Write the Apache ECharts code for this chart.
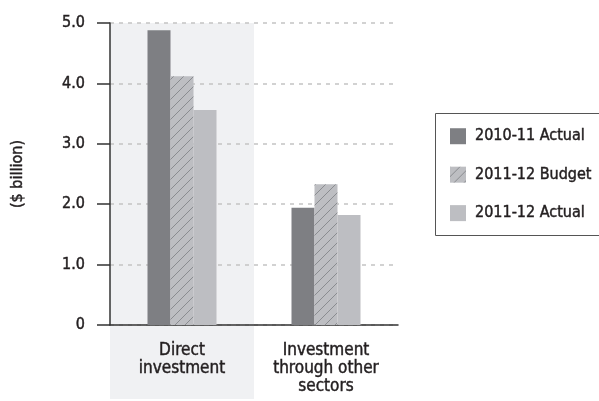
<!DOCTYPE html>
<html>
<head>
<meta charset="utf-8">
<script src="https://cdn.jsdelivr.net/npm/echarts@6/dist/echarts.min.js"></script>
<style>
  html, body { margin: 0; padding: 0; background: #fff; }
  #chart { width: 599px; height: 401px; }
</style>
</head>
<body>
<div id="chart"></div>
<script>
// Investment totals, $ billion
const categories = ['Direct\ninvestment', 'Investment\nthrough other\nsectors'];
const seriesNames = ['2010-11 Actual', '2011-12 Budget', '2011-12 Actual'];
const actual2010 = [4.88, 1.94];
const budget2011 = [4.12, 2.33];
const actual2011 = [3.56, 1.82];
const yTicks = [0, 1, 2, 3, 4, 5];

const FONT = "'Liberation Sans Narrow', 'DejaVu Sans Condensed', 'Roboto', sans-serif";
const TEXT = '#231f20';
const DARK = '#7e7f83';
const LIGHT = '#bdbec2';
// slightly heavier than regular weight
const INK = { color: TEXT, textBorderColor: TEXT, textBorderWidth: 0.45 };

// Diagonal hatch for the budget bars
function hatchPattern() {
  const c = document.createElement('canvas');
  c.width = 10; c.height = 10;
  const g = c.getContext('2d');
  g.fillStyle = LIGHT;
  g.fillRect(0, 0, 10, 10);
  g.strokeStyle = '#85868a';
  g.lineWidth = 0.9;
  g.beginPath();
  g.moveTo(-1, 11); g.lineTo(11, -1);
  g.stroke();
  return { image: c, repeat: 'repeat' };
}

const chart = echarts.init(document.getElementById('chart'), null, { renderer: 'canvas' });

const option = {
  animation: false,
  textStyle: { fontFamily: FONT, color: TEXT },
  grid: { left: 110, right: 201, top: 23, bottom: 76, containLabel: false },
  legend: {
    orient: 'vertical',
    left: 450,
    top: 128,
    padding: 0,
    itemWidth: 16,
    itemHeight: 16,
    itemGap: 22,
    icon: 'rect',
    selectedMode: false,
    textStyle: Object.assign({ fontFamily: FONT, fontSize: 16, padding: [0, 0, 0, 4] }, INK),
    data: seriesNames
  },
  xAxis: {
    type: 'category',
    data: categories,
    axisLine: { lineStyle: { color: '#333', width: 1.5 } },
    axisTick: { show: false },
    axisLabel: Object.assign({
      interval: 0, fontFamily: FONT, fontSize: 17, lineHeight: 18, margin: 17
    }, INK)
  },
  yAxis: {
    type: 'value',
    min: 0, max: 5, interval: 1,
    name: '($ billion)',
    nameLocation: 'middle',
    nameRotate: 90,
    nameGap: 84,
    nameTextStyle: Object.assign({ fontFamily: FONT, fontSize: 16 }, INK),
    axisLine: { show: true, lineStyle: { color: '#333', width: 1.5 } },
    axisTick: { show: true, length: 13, lineStyle: { color: '#333', width: 1.5 } },
    axisLabel: Object.assign({
      fontFamily: FONT, fontSize: 16, margin: 25,
      formatter: v => (v === 0 ? '0' : v.toFixed(1))
    }, INK),
    splitLine: { show: true, lineStyle: { color: '#c4c4c4', type: [4, 5], width: 1.5 } }
  },
  series: [
    {
      name: seriesNames[0], type: 'bar', data: actual2010,
      barWidth: 23, barGap: '0%',
      itemStyle: { color: DARK }, z: 3
    },
    {
      name: seriesNames[1], type: 'bar', data: budget2011,
      barWidth: 23,
      itemStyle: { color: hatchPattern() }, z: 3
    },
    {
      name: seriesNames[2], type: 'bar', data: actual2011,
      barWidth: 23,
      itemStyle: { color: LIGHT }, z: 3
    }
  ]
};

chart.setOption(option);

// Shaded band behind the first category (extends down through its label)
// and the frame around the legend.
const x0 = chart.convertToPixel({ xAxisIndex: 0 }, 0);
const x1 = chart.convertToPixel({ xAxisIndex: 0 }, 1);
const half = (x1 - x0) / 2;
const yTop = chart.convertToPixel({ yAxisIndex: 0 }, yTicks[yTicks.length - 1]);

chart.setOption({
  graphic: [
    {
      type: 'rect', z: -10, silent: true,
      shape: { x: x0 - half, y: yTop, width: half * 2, height: 399 - yTop },
      style: { fill: '#f0f1f3' }
    },
    {
      type: 'rect', z: 10, silent: true,
      shape: { x: 435.5, y: 113.5, width: 170, height: 122 },
      style: { fill: 'none', stroke: '#555', lineWidth: 1 }
    }
  ]
});
</script>
</body>
</html>
